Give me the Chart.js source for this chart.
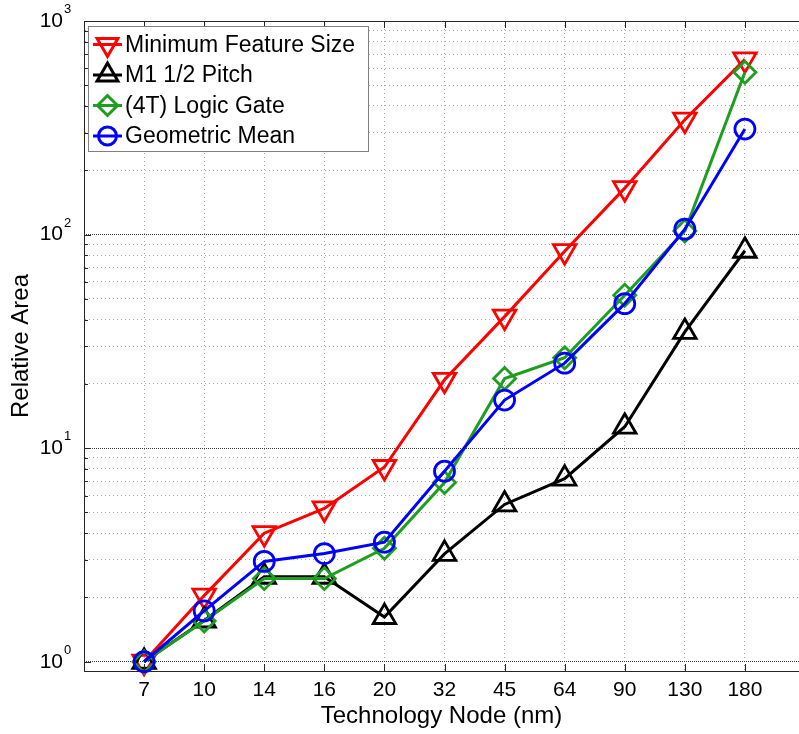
<!DOCTYPE html>
<html>
<head>
<meta charset="utf-8">
<script src="https://cdn.jsdelivr.net/npm/chart.js@4"></script>
<style>
  html, body { margin: 0; padding: 0; background: #fff; overflow: hidden; }
  canvas { display: block; }
</style>
</head>
<body>
<canvas id="areaChart" width="799" height="734"></canvas>
<script>
// Technology nodes along the x axis
const nodes = ['7', '10', '14', '16', '20', '32', '45', '64', '90', '130', '180'];

// Relative area per node, normalised to 7 nm
const minFeatureSize = [1, 2.04, 4.0, 5.22, 8.16, 20.9, 41.3, 83.6, 165, 345, 661];
const m1HalfPitch   = [1, 1.56, 2.5, 2.5, 1.62, 3.2, 5.45, 7.2, 12.6, 35, 84];
const logicGate     = [1, 1.55, 2.45, 2.45, 3.4, 6.9, 21.2, 26.5, 52, 104, 575];
const geometricMean = [1, 1.73, 2.95, 3.21, 3.63, 7.8, 16.8, 25, 47.5, 106, 312];

// Log axis ticks (minor + decades)
const logTicks = [1, 2, 3, 4, 5, 6, 7, 8, 9,
                  10, 20, 30, 40, 50, 60, 70, 80, 90,
                  100, 200, 300, 400, 500, 600, 700, 800, 900, 1000];
const decades = [1, 10, 100, 1000];

Chart.defaults.font.family = "'Liberation Sans', Arial, sans-serif";
Chart.defaults.color = '#000';

const series = [
  { label: 'Minimum Feature Size', data: minFeatureSize, color: '#ff0000', style: 'triangle', rotation: 180, radius: 13, order: 4 },
  { label: 'M1 1/2 Pitch',         data: m1HalfPitch,    color: '#000000', style: 'triangle', rotation: 0,   radius: 13, order: 3 },
  { label: '(4T) Logic Gate',      data: logicGate,      color: '#1e9e1e', style: 'rectRot',  rotation: 0,   radius: 11, order: 2 },
  { label: 'Geometric Mean',       data: geometricMean,  color: '#0000ff', style: 'circle',   rotation: 0,   radius: 10, order: 1 }
];

const axisColor = '#262626';
const minorGrid = '#a8a8a8';

// keep the plot area fixed: no extra room for overhanging tick labels
function fixBox(s, size) {
  if (s.isHorizontal()) s.height = size; else s.width = size;
  s.paddingTop = 0;
  s.paddingBottom = 0;
  s.paddingLeft = 0;
  s.paddingRight = 0;
}

// superscript exponents next to the "10" labels
const exponentPlugin = {
  id: 'exponents',
  afterDraw(chart) {
    const { ctx, chartArea, scales } = chart;
    ctx.save();
    ctx.fillStyle = '#000';
    ctx.font = "13px 'Liberation Sans', Arial, sans-serif";
    ctx.textAlign = 'left';
    ctx.textBaseline = 'alphabetic';
    decades.forEach(d => {
      const y = scales.y.getPixelForValue(d);
      ctx.fillText(String(Math.round(Math.log10(d))), chartArea.left - 20, y - 8);
    });
    ctx.restore();
  }
};

// top border and inward tick marks
const framePlugin = {
  id: 'frame',
  afterDraw(chart) {
    const { ctx, chartArea: a, scales } = chart;
    ctx.save();
    ctx.strokeStyle = axisColor;
    ctx.lineWidth = 1;
    ctx.beginPath();
    ctx.moveTo(a.left, a.top + 0.5);
    ctx.lineTo(a.right, a.top + 0.5);
    scales.x.ticks.forEach(t => {
      const x = Math.round(scales.x.getPixelForValue(t.value)) + 0.5;
      ctx.moveTo(x, a.bottom); ctx.lineTo(x, a.bottom - 7);
      ctx.moveTo(x, a.top); ctx.lineTo(x, a.top + 7);
    });
    logTicks.forEach(v => {
      const y = Math.round(scales.y.getPixelForValue(v)) + 0.5;
      const len = decades.includes(v) ? 7 : 4;
      ctx.moveTo(a.left, y); ctx.lineTo(a.left + len, y);
    });
    ctx.stroke();
    ctx.restore();
  }
};

// boxed legend inside the plot, line through each marker
const legendPlugin = {
  id: 'boxLegend',
  afterDraw(chart) {
    const ctx = chart.ctx;
    const bx = 88.5, by = 26.5, bw = 280, bh = 125;
    ctx.save();
    ctx.fillStyle = '#fff';
    ctx.fillRect(bx, by, bw, bh);
    ctx.strokeStyle = '#808080';
    ctx.lineWidth = 1;
    ctx.strokeRect(bx, by, bw, bh);
    ctx.font = "23px 'Liberation Sans', Arial, sans-serif";
    ctx.textBaseline = 'middle';
    ctx.textAlign = 'left';
    series.forEach((s, i) => {
      const cy = by + 18 + i * 30.5;
      ctx.strokeStyle = s.color;
      ctx.lineWidth = 3;
      ctx.beginPath();
      ctx.moveTo(93, cy);
      ctx.lineTo(122, cy);
      ctx.stroke();
      ctx.fillStyle = 'rgba(0,0,0,0)';
      Chart.helpers.drawPoint(ctx, {
        pointStyle: s.style, radius: s.radius - 1, rotation: s.rotation, borderWidth: 3
      }, 107.5, cy);
      ctx.fillStyle = '#000';
      ctx.fillText(s.label, 125, cy + 1);
    });
    ctx.restore();
  }
};

const ctx = document.getElementById('areaChart').getContext('2d');
new Chart(ctx, {
  type: 'line',
  data: {
    datasets: series.map(s => ({
      label: s.label,
      data: s.data.map((v, i) => ({ x: i + 1, y: v })),
      borderColor: s.color,
      borderWidth: 3,
      pointStyle: s.style,
      rotation: s.rotation,
      pointRadius: s.radius,
      pointBorderColor: s.color,
      pointBackgroundColor: 'transparent',
      pointBorderWidth: 2.8,
      tension: 0,
      fill: false,
      clip: false,
      order: s.order
    }))
  },
  options: {
    responsive: false,
    animation: false,
    layout: { autoPadding: false, padding: { top: 21, right: 0, bottom: 0, left: 0 } },
    plugins: { legend: { display: false }, tooltip: { enabled: false } },
    scales: {
      x: {
        type: 'linear',
        min: 0,
        max: 11.9,
        afterBuildTicks: s => { s.ticks = nodes.map((n, i) => ({ value: i + 1 })); },
        afterFit: s => fixBox(s, 63),
        grid: { color: minorGrid, lineWidth: 1, drawTicks: false },
        border: { color: axisColor, width: 1, dash: [1, 3] },
        ticks: {
          font: { size: 21 },
          color: '#000',
          padding: 7,
          maxRotation: 0,
          autoSkip: false,
          callback: v => nodes[v - 1] ?? ''
        },
        title: {
          display: true,
          text: 'Technology Node (nm)',
          color: '#000',
          font: { size: 24 },
          padding: { top: 0, bottom: 3 }
        }
      },
      y: {
        type: 'logarithmic',
        position: 'left',
        min: 0.905,
        max: 1000,
        afterBuildTicks: s => { s.ticks = logTicks.map(v => ({ value: v })); },
        afterFit: s => fixBox(s, 84),
        grid: {
          color: c => (c.tick && decades.includes(c.tick.value)) ? 'transparent' : minorGrid,
          lineWidth: 1,
          drawTicks: false
        },
        border: { color: axisColor, width: 1, dash: [1, 3] },
        ticks: {
          font: { size: 21 },
          color: '#000',
          padding: 21,
          autoSkip: false,
          callback: v => decades.includes(v) ? '10' : ''
        },
        title: {
          display: true,
          text: 'Relative Area',
          color: '#000',
          font: { size: 24 },
          padding: { top: 7, bottom: 0 }
        }
      },
      // decade grid lines, denser dots
      yMajor: {
        type: 'logarithmic',
        position: 'left',
        min: 0.905,
        max: 1000,
        afterBuildTicks: s => { s.ticks = decades.map(v => ({ value: v })); },
        afterFit: s => fixBox(s, 0),
        grid: { color: '#3a3a3a', lineWidth: 1, drawTicks: false },
        border: { display: false, dash: [1, 1] },
        ticks: { display: false }
      }
    }
  },
  plugins: [framePlugin, exponentPlugin, legendPlugin]
});
</script>
</body>
</html>
